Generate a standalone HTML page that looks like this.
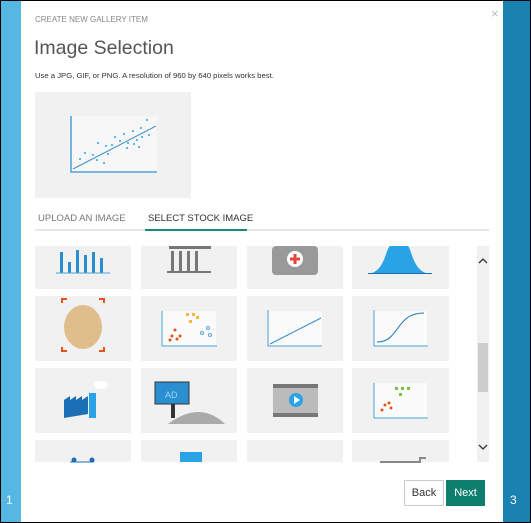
<!DOCTYPE html>
<html><head><style>
body{margin:0;width:531px;height:523px;overflow:hidden;font-family:"Liberation Sans",sans-serif;background:#fff;position:relative}
.a{position:absolute}
.t{background:#f1f1f1;position:absolute}
</style></head><body>
<div class="a" style="left:0;top:0;width:529px;height:521px;border:1px solid #000"></div>
<div class="a" style="left:1px;top:1px;width:20px;height:521px;background:#55b8e2"></div>
<div class="a" style="left:503px;top:1px;width:27px;height:521px;background:#1a82b0"></div>
<div class="a" style="left:6px;top:493px;color:#fff;font-size:12px">1</div>
<div class="a" style="left:510px;top:493px;color:#fff;font-size:12px">3</div>
<div class="a" style="left:491px;top:6px;color:#bbb;font-size:13px">×</div>
<div class="a" style="left:35px;top:15px;color:#888;font-size:8px">CREATE NEW GALLERY ITEM</div>
<div class="a" style="left:34px;top:37px;color:#555;font-size:19.5px">Image Selection</div>
<div class="a" style="left:35px;top:71px;color:#333;font-size:7.7px">Use a JPG, GIF, or PNG. A resolution of 960 by 640 pixels works best.</div>
<div class="t" style="left:35px;top:92px;width:156px;height:106px"></div>
<svg class="a" style="left:0;top:0" width="531" height="523">
<rect x="72" y="116" width="85" height="56" fill="#f7f7f7"/>
<path d="M71 116V172H157" stroke="#4aa3d8" stroke-width="1.5" fill="none"/>
<line x1="73" y1="169" x2="156" y2="126" stroke="#3a8fc8" stroke-width="1"/>
<g fill="#29a3e6">
<circle cx="80" cy="159" r="1"/><circle cx="85" cy="153" r="1"/><circle cx="93" cy="155" r="1"/><circle cx="98" cy="143" r="1"/><circle cx="104" cy="163" r="1"/><circle cx="106" cy="146" r="1"/><circle cx="108" cy="154" r="1"/><circle cx="112" cy="145" r="1"/><circle cx="115" cy="137" r="1"/><circle cx="120" cy="141" r="1"/><circle cx="124" cy="134" r="1"/><circle cx="127" cy="148" r="1"/><circle cx="128" cy="143" r="1"/><circle cx="133" cy="131" r="1"/><circle cx="134" cy="144" r="1"/><circle cx="137" cy="140" r="1"/><circle cx="141" cy="128" r="1"/><circle cx="142" cy="137" r="1"/><circle cx="147" cy="120" r="1"/><circle cx="149" cy="135" r="1"/><circle cx="97" cy="160" r="1"/><circle cx="139" cy="147" r="1"/>
</g>
<line x1="35" y1="230" x2="489" y2="230" stroke="#ccc" stroke-width="1"/>
<line x1="145" y1="230" x2="247" y2="230" stroke="#1a8a7a" stroke-width="2"/>
</svg>
<div class="a" style="left:38px;top:213px;color:#777;font-size:9.5px">UPLOAD AN IMAGE</div>
<div class="a" style="left:148px;top:213px;color:#333;font-size:9.5px">SELECT STOCK IMAGE</div>
<div class="t" style="left:35px;top:246px;width:96px;height:43px"></div>
<div class="t" style="left:141px;top:246px;width:96px;height:43px"></div>
<div class="t" style="left:247px;top:246px;width:96px;height:43px"></div>
<div class="t" style="left:352px;top:246px;width:97px;height:43px"></div>
<div class="t" style="left:35px;top:296px;width:96px;height:65px"></div>
<div class="t" style="left:141px;top:296px;width:96px;height:65px"></div>
<div class="t" style="left:247px;top:296px;width:96px;height:65px"></div>
<div class="t" style="left:352px;top:296px;width:97px;height:65px"></div>
<div class="t" style="left:35px;top:368px;width:96px;height:65px"></div>
<div class="t" style="left:141px;top:368px;width:96px;height:65px"></div>
<div class="t" style="left:247px;top:368px;width:96px;height:65px"></div>
<div class="t" style="left:352px;top:368px;width:97px;height:65px"></div>
<div class="t" style="left:35px;top:440px;width:96px;height:22px"></div>
<div class="t" style="left:141px;top:440px;width:96px;height:22px"></div>
<div class="t" style="left:247px;top:440px;width:96px;height:22px"></div>
<div class="t" style="left:352px;top:440px;width:97px;height:22px"></div>
<div class="a" style="left:477px;top:246px;width:12px;height:216px;background:#f0f0f0"></div>
<div class="a" style="left:478px;top:343px;width:10px;height:49px;background:#cdcdcd"></div>
<svg class="a" style="left:0;top:0" width="531" height="523">
<path d="M479 263l4-4 4 4M479 445l4 4 4-4" stroke="#333" stroke-width="1.3" fill="none"/>
<g fill="#2a8fd0"><rect x="60" y="252" width="3" height="21"/><rect x="68" y="262" width="3" height="11"/><rect x="76" y="250" width="3" height="23"/><rect x="84" y="255" width="3" height="18"/><rect x="92" y="252" width="3" height="21"/><rect x="100" y="258" width="3" height="15"/></g>
<line x1="56" y1="273" x2="110" y2="273" stroke="#4aa3d8"/>
<g fill="#777"><rect x="171" y="251" width="3" height="20"/><rect x="179" y="251" width="3" height="20"/><rect x="187" y="251" width="3" height="20"/><rect x="195" y="251" width="3" height="20"/><rect x="167" y="271" width="44" height="2"/><rect x="169" y="246" width="42" height="3"/></g>
<rect x="272" y="246" width="46" height="29" rx="4" fill="#999"/><circle cx="295" cy="259" r="8" fill="#fff"/><path d="M295 254v10M290 259h10" stroke="#e8453c" stroke-width="3"/>
<path d="M368 274C385 272 385 250 390 246H408C412 250 413 272 430 274Z" fill="#29a3e6"/><rect x="368" y="273" width="64" height="1" fill="#1a6fb5"/>
<ellipse cx="83" cy="327" rx="19" ry="22" fill="#e0be8c"/>
<path d="M62 303v-4h5M104 303v-4h-5M62 347v4h5M104 347v4h-5" stroke="#e0541f" stroke-width="2" fill="none"/>
<rect x="162" y="311" width="54" height="34" fill="#fafafa"/><path d="M162 311v35h55" stroke="#4aa3d8" fill="none"/>
<g fill="#f6b93b"><rect x="186" y="313" width="3" height="3"/><rect x="192" y="313" width="3" height="3"/><rect x="196" y="316" width="3" height="3"/><rect x="189" y="320" width="3" height="3"/></g>
<g fill="#e0541f"><circle cx="172" cy="336" r="1.5"/><circle cx="175" cy="330" r="1.5"/><circle cx="180" cy="336" r="1.5"/><circle cx="177" cy="339" r="1.5"/><circle cx="170" cy="340" r="1.5"/></g>
<g fill="none" stroke="#5aa8e0"><circle cx="202" cy="333" r="1.5"/><circle cx="208" cy="328" r="1.5"/><circle cx="210" cy="335" r="1.5"/></g>
<rect x="269" y="311" width="53" height="35" fill="#fafafa"/><path d="M268 310v36h54" stroke="#4aa3d8" fill="none"/><line x1="270" y1="344" x2="321" y2="318" stroke="#3a8fc8"/>
<rect x="374" y="311" width="53" height="35" fill="#fafafa"/><path d="M374 310v36h54" stroke="#4aa3d8" fill="none"/><path d="M377 342C400 342 395 313 424 313" stroke="#1a6fb5" fill="none"/>
<path d="M64 418v-18l6-4v4l6-4v4l6-4v4l6-4v18z" fill="#1a6fb5"/><rect x="89" y="393" width="7" height="25" fill="#29a3e6"/><ellipse cx="101" cy="385" rx="7" ry="4" fill="#fff"/>
<path d="M168 424Q200 400 225 424Z" fill="#aaa"/><rect x="171" y="404" width="4" height="14" fill="#333"/><rect x="155" y="382" width="34" height="22" fill="#2a8fd0" stroke="#333"/><text x="165" y="398" font-size="9" fill="#9cd3f5" font-family="Liberation Sans">AD</text>
<rect x="273" y="384" width="45" height="33" fill="#bbb"/><rect x="273" y="384" width="45" height="4" fill="#777"/><rect x="273" y="413" width="45" height="4" fill="#777"/><circle cx="296" cy="400" r="7" fill="#29a3e6"/><path d="M294 396v8l6-4z" fill="#fff"/>
<rect x="374" y="383" width="53" height="35" fill="#fafafa"/><path d="M374 383v35h54" stroke="#4aa3d8" fill="none"/>
<g fill="#e0541f"><circle cx="385" cy="405" r="1.5"/><circle cx="389" cy="403" r="1.5"/><circle cx="391" cy="408" r="1.5"/><circle cx="382" cy="410" r="1.5"/></g>
<g fill="#7cc142"><rect x="395" y="387" width="3" height="3"/><rect x="401" y="387" width="3" height="3"/><rect x="407" y="387" width="3" height="3"/><rect x="399" y="393" width="3" height="3"/></g>
<path d="M70 462h24" stroke="#1a6fb5"/><circle cx="74" cy="460" r="2.5" fill="#1a6fb5"/><circle cx="92" cy="460" r="2.5" fill="#1a6fb5"/>
<rect x="180" y="452" width="22" height="10" fill="#29a3e6"/>
<path d="M380 462h40v-4h6" stroke="#888" stroke-width="2" fill="none"/>
</svg>
<div class="a" style="left:404px;top:480px;width:38px;height:24px;border:1px solid #ccc;text-align:center;line-height:24px;font-size:11px;color:#333">Back</div>
<div class="a" style="left:446px;top:480px;width:39px;height:26px;background:#0e7f6e;color:#fff;text-align:center;line-height:26px;font-size:11px">Next</div>
</body></html>
